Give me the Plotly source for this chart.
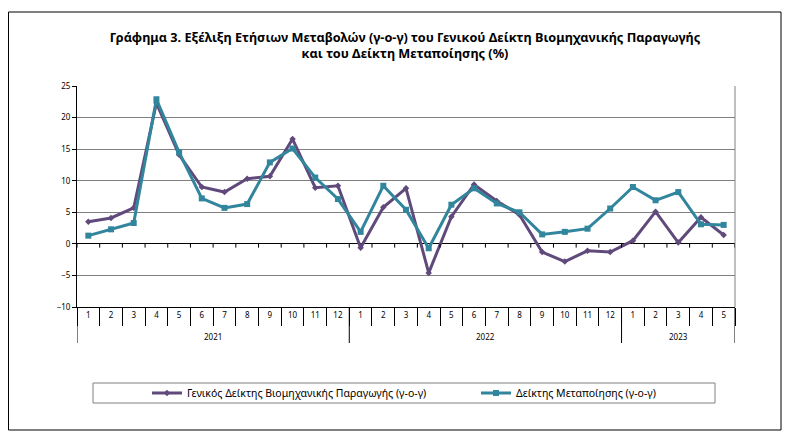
import plotly.graph_objects as go

# ---- data ----
years = [2021] * 12 + [2022] * 12 + [2023] * 5
months = list(range(1, 13)) + list(range(1, 13)) + list(range(1, 6))
general_index = [3.5, 4.1, 5.7, 22.3, 14.1, 9.0, 8.2, 10.3, 10.7, 16.6, 8.9, 9.2,
                 -0.6, 5.8, 8.8, -4.6, 4.3, 9.4, 6.8, 4.6, -1.3, -2.8, -1.1, -1.3,
                 0.5, 5.1, 0.2, 4.2, 1.4]
manufacturing = [1.3, 2.3, 3.3, 22.9, 14.5, 7.2, 5.7, 6.3, 12.9, 15.1, 10.5, 7.1,
                 1.9, 9.2, 5.4, -0.7, 6.2, 8.8, 6.4, 5.0, 1.5, 1.9, 2.4, 5.6,
                 9.0, 6.9, 8.2, 3.1, 3.0]
name_general = "Γενικός Δείκτης Βιομηχανικής Παραγωγής (γ-ο-γ)"
name_manuf = "Δείκτης Μεταποίησης (γ-ο-γ)"
title_text = ("Γράφημα 3. Εξέλιξη Ετήσιων Μεταβολών (γ-ο-γ) του Γενικού Δείκτη Βιομηχανικής Παραγωγής"
              "<br>και του Δείκτη Μεταποίησης (%)")

# ---- layout geometry (window pixels; page body has an 8px margin) ----
OFF = 8
W, H = 794 - OFF, 445 - OFF
L, R, T, B = 77 - OFF, 735 - OFF, 86 - OFF, 307 - OFF
pw, ph = R - L, B - T

def px_x(p):
    return (p - OFF - L) / pw

def px_y(p):
    return (B - (p - OFF)) / ph

cats = [f"{y}-{m}" for y, m in zip(years, months)]
FONT = "Noto Sans"

fig = go.Figure()
fig.add_trace(go.Scatter(
    x=cats, y=general_index, name=name_general, mode="lines+markers",
    line=dict(color="#604A7B", width=3),
    marker=dict(symbol="diamond", size=5, color="#604A7B"),
    cliponaxis=False, legend="legend",
))
fig.add_trace(go.Scatter(
    x=cats, y=manufacturing, name=name_manuf, mode="lines+markers",
    line=dict(color="#31859C", width=3),
    marker=dict(symbol="square", size=6, color="#31859C"),
    cliponaxis=False, legend="legend2",
))

shapes = []
# outer chart frame
shapes.append(dict(type="rect", xref="paper", yref="paper",
                   x0=px_x(8.5), x1=px_x(781), y0=px_y(430), y1=px_y(12),
                   line=dict(color="#000000", width=1), fillcolor="rgba(0,0,0,0)", layer="below"))
# right border of plot area
shapes.append(dict(type="line", xref="paper", yref="paper", x0=1, x1=1, y0=0, y1=1,
                   line=dict(color="#808080", width=1)))
# year separators (extend below month row)
n = len(cats)
bounds = [i for i in range(n) if i == 0 or years[i] != years[i - 1]] + [n]
for b in bounds:
    shapes.append(dict(type="line", xref="x", yref="paper", x0=b - 0.5, x1=b - 0.5,
                       y0=0, y1=px_y(343), line=dict(color="#000000", width=1)))
# small tick marks on the zero line
for i in range(n + 1):
    shapes.append(dict(type="line", xref="x", yref="y", x0=i - 0.5, x1=i - 0.5,
                       y0=0, y1=-0.6, line=dict(color="#000000", width=1)))
# legend frame
shapes.append(dict(type="rect", xref="paper", yref="paper",
                   x0=px_x(93), x1=px_x(715), y0=px_y(403), y1=px_y(383),
                   line=dict(color="#808080", width=1), fillcolor="rgba(0,0,0,0)"))

annotations = []
for k in range(len(bounds) - 1):
    s, e = bounds[k], bounds[k + 1] - 1
    annotations.append(dict(x=(s + e) / 2, y=px_y(336), xref="x", yref="paper",
                            xanchor="center", yanchor="middle",
                            text=str(years[s]), showarrow=False,
                            font=dict(family=FONT, size=8, color="#000000")))

legend_common = dict(orientation="h", xanchor="left", yanchor="middle",
                     font=dict(family=FONT, size=10.5, color="#000000"),
                     bgcolor="rgba(0,0,0,0)", borderwidth=0, itemwidth=30)

fig.update_layout(
    width=W, height=H,
    margin=dict(l=L, r=W - R, t=T, b=H - B),
    paper_bgcolor="white", plot_bgcolor="white",
    title=dict(text=title_text, x=px_x(405), xref="paper", xanchor="center",
               y=1 - (41.5 - OFF) / H, yref="container", yanchor="middle",
               font=dict(family=FONT, size=12.7, color="#000000", weight="bold")),
    showlegend=True,
    legend=dict(x=px_x(147), y=px_y(393), **legend_common),
    legend2=dict(x=px_x(476), y=px_y(393), **legend_common),
    shapes=shapes,
    annotations=annotations,
)
fig.update_xaxes(
    type="category", categoryorder="array", categoryarray=cats,
    tickmode="array", tickvals=cats, ticktext=[str(m) for m in months],
    tickson="boundaries", ticks="outside", ticklen=18, tickcolor="#000000",
    showline=True, linecolor="#000000", linewidth=1,
    showgrid=False, zeroline=False,
    tickfont=dict(family=FONT, size=8, color="#000000"),
    range=[-0.5, n - 0.5],
)
fig.update_yaxes(
    range=[-10, 25], dtick=5, tick0=0,
    showgrid=True, gridcolor="#808080", gridwidth=1,
    zeroline=True, zerolinecolor="#000000", zerolinewidth=1,
    showline=True, linecolor="#000000", linewidth=1,
    ticks="outside", ticklen=4, tickcolor="#000000",
    tickfont=dict(family=FONT, size=8, color="#000000"),
)

fig.write_html("out.html")
